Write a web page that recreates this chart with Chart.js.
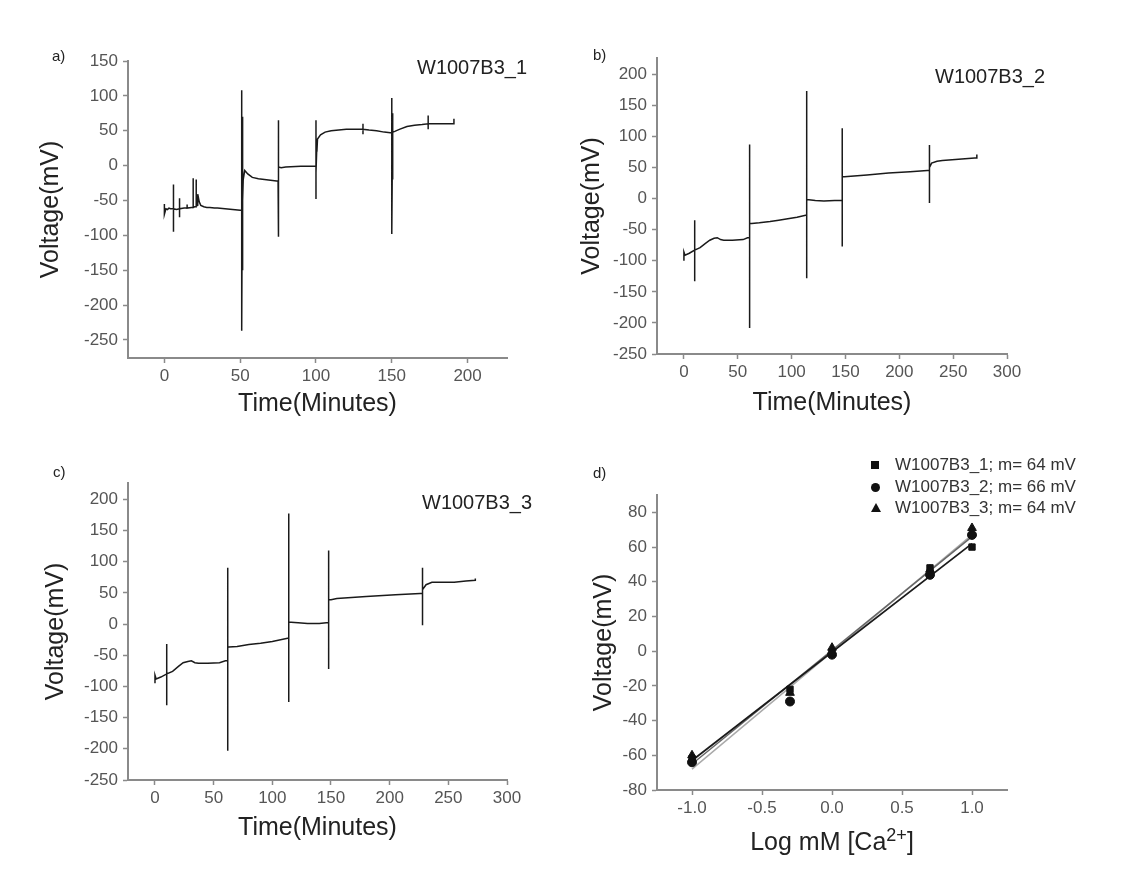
<!DOCTYPE html>
<html>
<head>
<meta charset="utf-8">
<script src="https://cdn.jsdelivr.net/npm/chart.js@4.4.0/dist/chart.umd.min.js"></script>
<style>
  body { margin: 0; background: #fff; }
  #fig { position: relative; width: 1144px; height: 871px; font-family: "Liberation Sans", Arial, sans-serif; color: #222; }
  canvas { position: absolute; }
  .lbl { position: absolute; white-space: nowrap; line-height: 1; }
  .mk { position: absolute; background: #111; }
  sup { font-size: 0.72em; vertical-align: baseline; position: relative; top: -0.5em; }
</style>
</head>
<body>
<div id="fig">
  <canvas id="cA" width="560" height="420" style="left:0;top:0"></canvas>
  <canvas id="cB" width="584" height="420" style="left:560px;top:0"></canvas>
  <canvas id="cC" width="560" height="451" style="left:0;top:420px"></canvas>
  <canvas id="cD" width="584" height="451" style="left:560px;top:420px"></canvas>

  <div class="lbl" style="left:52px;top:48px;font-size:15px">a)</div>
  <div class="lbl" style="left:593px;top:47px;font-size:15px">b)</div>
  <div class="lbl" style="left:53px;top:464px;font-size:15px">c)</div>
  <div class="lbl" style="left:593px;top:465px;font-size:15px">d)</div>

  <div class="lbl" style="left:417px;top:57px;font-size:20px">W1007B3_1</div>
  <div class="lbl" style="left:935px;top:66px;font-size:20px">W1007B3_2</div>
  <div class="lbl" style="left:422px;top:492px;font-size:20px">W1007B3_3</div>

  <!-- legend of panel d -->
  <div class="mk" style="left:871px;top:461px;width:8px;height:8px"></div>
  <div class="mk" style="left:871px;top:483px;width:9px;height:9px;border-radius:50%"></div>
  <div style="position:absolute;left:871px;top:503px;width:0;height:0;border-left:5px solid transparent;border-right:5px solid transparent;border-bottom:9px solid #111"></div>
  <div class="lbl" style="left:895px;top:456px;font-size:17px;color:#333">W1007B3_1; m= 64 mV</div>
  <div class="lbl" style="left:895px;top:478px;font-size:17px;color:#333">W1007B3_2; m= 66 mV</div>
  <div class="lbl" style="left:895px;top:499px;font-size:17px;color:#333">W1007B3_3; m= 64 mV</div>

  <div class="lbl" style="left:732px;top:829px;width:200px;text-align:center;font-size:25px">Log mM [Ca<sup>2+</sup>]</div>
</div>

<script>
// a) W1007B3_1 trace
var timeA = [0, 0, 0, 1, 2, 3, 4, 6, 6, 6, 6, 8, 10, 10, 10, 10, 13, 15, 15, 15, 18, 19, 19, 19, 20, 21, 21, 21, 22, 22, 23, 24, 26, 28, 30, 33, 35, 40, 45, 50,
             51, 51, 51, 51, 51, 51.6, 51.6, 51.6, 52, 53, 55, 58, 62, 66, 70, 74,
             75, 75, 75, 75, 75, 75.6, 75.6, 75.6, 77, 80, 90, 99,
             100, 100, 100, 100, 100.6, 100.6, 101, 103, 106, 110, 115, 120, 125, 131, 131, 131, 131, 135, 140, 145, 149,
             150, 150, 150, 150, 150, 150.6, 150.6, 150.6, 152, 155, 160, 165, 170, 174, 174, 174, 174, 180, 185, 190, 191, 191];
var voltA = [-62, -55, -70, -62, -63, -61, -62, -62, -27, -95, -62, -63, -62, -47, -74, -62, -61, -61, -56, -61, -60, -60, -18, -60, -59, -59, -20, -58, -57, -41, -52, -57, -59, -60, -60, -61, -61, -62, -63, -64,
             -64, 75, -155, 108, -237, 70, -150, -50, -20, -7, -12, -17, -19, -20, -21, -22,
             -22, 52, -50, 65, -102, 45, -45, -2, -3, -2, -1, -1,
             -1, 65, -48, -10, 30, 20, 38, 44, 48, 50, 51, 52, 52, 52, 45, 60, 52, 51, 50, 48, 47,
             47, 80, -25, 97, -98, 75, -20, 48, 49, 52, 56, 58, 59, 60, 52, 72, 60, 60, 60, 60, 60, 67];

// b) W1007B3_2 trace
var timeB = [0, 0, 0, 1, 5, 10, 10, 10, 10, 15, 20, 24, 28, 31, 34, 37, 45, 55, 59,
             61, 61, 61, 61, 61, 61, 63, 70, 80, 88, 95, 105, 113,
             114, 114, 114, 114, 114, 114, 116, 122, 130, 140, 146,
             147, 147, 147, 147, 147, 147, 149, 155, 170, 190, 210, 226,
             228, 228, 228, 228, 230, 235, 240, 255, 270, 272, 272];
var voltB = [-92, -100, -86, -91, -88, -83, -35, -133, -83, -79, -72, -67, -64, -63, -66, -67, -67, -66, -63,
             -63, 25, -40, 87, -208, -40, -40, -39, -37, -35, -33, -30, -27,
             -27, 35, -45, 173, -128, -2, -2, -3, -4, -3, -3,
             -3, 63, -20, 113, -77, 35, 35, 36, 38, 41, 43, 45,
             45, 86, -7, 50, 57, 60, 61, 63, 65, 65, 71];

// c) W1007B3_3 trace
var timeC = [0, 0, 0, 1, 5, 10, 10, 10, 10, 15, 20, 24, 28, 31, 34, 37, 45, 55, 60,
             62, 62, 62, 62, 62, 62, 63, 70, 80, 90, 100, 113,
             114, 114, 114, 114, 114, 114, 116, 122, 130, 140, 146,
             148, 148, 148, 148, 148, 148, 150, 155, 180, 205, 226,
             228, 228, 228, 228, 231, 236, 245, 255, 265, 273, 273];
var voltC = [-88, -95, -82, -88, -85, -80, -32, -130, -80, -76, -68, -62, -60, -59, -62, -63, -63, -62, -59,
             -59, 30, -45, 90, -203, -37, -37, -36, -33, -31, -28, -23,
             -23, 37, -42, 177, -125, 3, 3, 2, 1, 1, 2,
             2, 68, -15, 118, -72, 39, 39, 41, 44, 47, 49,
             49, 90, -2, 55, 63, 67, 67, 67, 69, 70, 73];

// d) calibration
var logConc = [-1.0, -0.3, 0.0, 0.7, 1.0];
var calib1 = [-62, -22, -1, 48, 60];
var calib2 = [-64, -29, -2, 44, 67];
var calib3 = [-60, -24, 2, 47, 71];
var fitX = [-1.0, 1.0];
var fit1 = [-63, 62];
var fit2 = [-65, 66];
var fit3 = [-68, 67];

var timeTicks = [0, 50, 100, 150, 200, 250, 300];
var voltTicksA = [-250, -200, -150, -100, -50, 0, 50, 100, 150];
var voltTicksBC = [-250, -200, -150, -100, -50, 0, 50, 100, 150, 200];
var calibXTicks = [-1.0, -0.5, 0.0, 0.5, 1.0];
var calibYTicks = [-80, -60, -40, -20, 0, 20, 40, 60, 80];

Chart.defaults.font.family = '"Liberation Sans", Arial, sans-serif';

function pts(xs, ys) {
    return xs.map(function(x, i) { return {x: x, y: ys[i]}; });
}

function axis(min, max, ticks, size, isX, title, titlePad, fmt) {
    var a = {
        type: 'linear',
        min: min,
        max: max,
        afterBuildTicks: function(s) {
            s.ticks = ticks.filter(function(v) { return v >= min && v <= max; }).map(function(v) { return {value: v}; });
        },
        afterFit: function(s) {
            if (isX) s.height = size; else s.width = size;
        },
        border: {display: true, color: '#8a8a8a', width: 2},
        grid: {drawOnChartArea: false, drawTicks: true, tickLength: 5, tickColor: '#8a8a8a', tickWidth: 1.5},
        ticks: {color: '#555', font: {size: 17}, padding: isX ? 3 : 5, maxRotation: 0, autoSkip: false},
        title: {display: !!title, text: title, color: '#222', font: {size: 25},
                padding: isX ? {top: 0, bottom: titlePad} : {top: titlePad, bottom: 0}}
    };
    if (fmt) a.ticks.callback = fmt;
    return a;
}

function traceChart(id, t, v, o) {
    return new Chart(document.getElementById(id), {
        type: 'scatter',
        data: {
            datasets: [{
                data: pts(t, v),
                showLine: true,
                borderColor: '#1a1a1a',
                borderWidth: 1.5,
                pointRadius: 0,
                tension: 0
            }]
        },
        options: {
            responsive: false,
            animation: false,
            devicePixelRatio: 1,
            layout: {padding: {left: 0, top: o.top, right: o.right, bottom: 0}},
            plugins: {legend: {display: false}, tooltip: {enabled: false}},
            scales: {
                x: axis(o.xmin, o.xmax, timeTicks, o.xh, true, 'Time(Minutes)', o.xpad),
                y: axis(o.ymin, o.ymax, o.yticks, o.yw, false, 'Voltage(mV)', o.ypad)
            }
        }
    });
}

traceChart('cA', timeA, voltA, {top: 61, right: 53, xmin: -24, xmax: 226, ymin: -276, ymax: 150,
    yticks: voltTicksA, xh: 62, yw: 128, xpad: 1, ypad: 36});
traceChart('cB', timeB, voltB, {top: 58, right: 137, xmin: -25, xmax: 300, ymin: -250, ymax: 226,
    yticks: voltTicksBC, xh: 66, yw: 97, xpad: 2, ypad: 17});
traceChart('cC', timeC, voltC, {top: 63, right: 53, xmin: -23, xmax: 300, ymin: -250, ymax: 226,
    yticks: voltTicksBC, xh: 91, yw: 128, xpad: 28, ypad: 41});

new Chart(document.getElementById('cD'), {
    type: 'scatter',
    data: {
        datasets: [
            {data: pts(logConc, calib1), pointStyle: 'rect', pointRadius: 4.5, backgroundColor: '#111', borderColor: '#111'},
            {data: pts(logConc, calib2), pointStyle: 'circle', pointRadius: 4.5, backgroundColor: '#111', borderColor: '#111'},
            {data: pts(logConc, calib3), pointStyle: 'triangle', pointRadius: 5, backgroundColor: '#111', borderColor: '#111'},
            {data: pts(fitX, fit1), showLine: true, pointRadius: 0, borderColor: '#1a1a1a', borderWidth: 1.8},
            {data: pts(fitX, fit2), showLine: true, pointRadius: 0, borderColor: '#666', borderWidth: 1.5},
            {data: pts(fitX, fit3), showLine: true, pointRadius: 0, borderColor: '#aaa', borderWidth: 1.5}
        ]
    },
    options: {
        responsive: false,
        animation: false,
        devicePixelRatio: 1,
        layout: {padding: {left: 0, top: 75, right: 137, bottom: 0}},
        plugins: {legend: {display: false}, tooltip: {enabled: false}},
        scales: {
            x: axis(-1.25, 1.25, calibXTicks, 81, true, '', 0, function(v) { return v.toFixed(1); }),
            y: axis(-80, 90, calibYTicks, 97, false, 'Voltage(mV)', 29)
        }
    }
});
</script>
</body>
</html>
